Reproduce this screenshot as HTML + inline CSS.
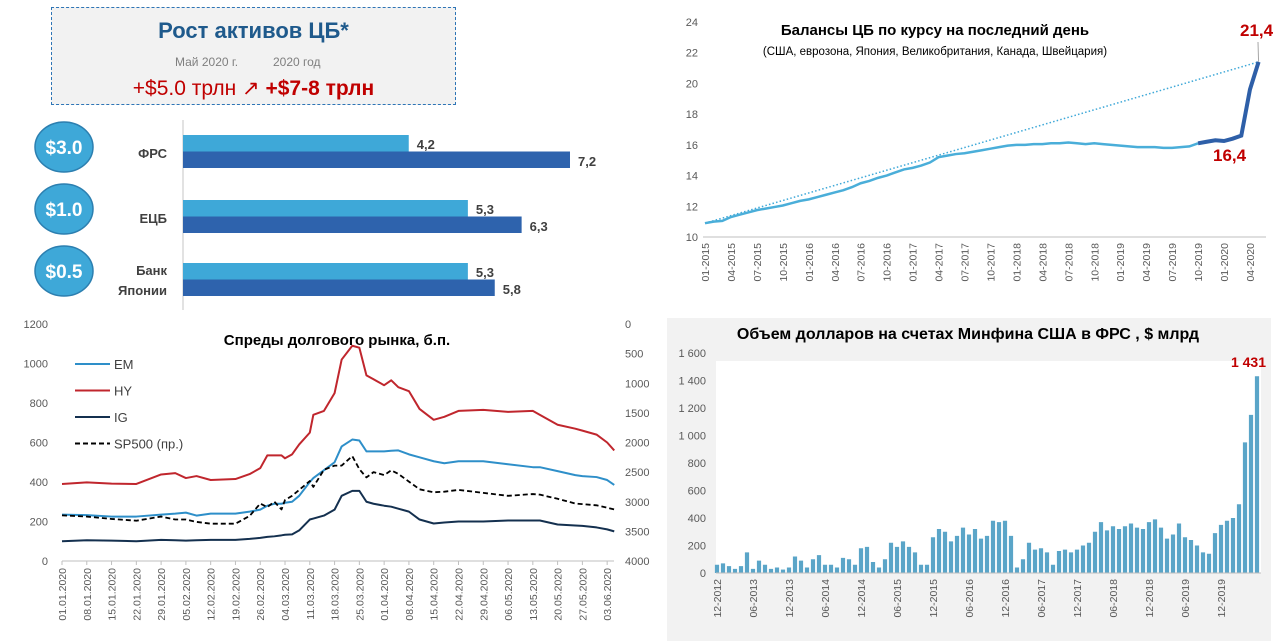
<!DOCTYPE html>
<html><head><meta charset="utf-8">
<style>
html,body{margin:0;padding:0;background:#fff;}
body{width:1280px;height:641px;position:relative;overflow:hidden;font-family:"Liberation Sans","DejaVu Sans",sans-serif;}
#box{position:absolute;left:51px;top:7px;width:403px;height:96px;background:#f2f2f2;border:1.5px dashed #2e75b6;}
#box .t{position:absolute;left:0;width:100%;top:10px;text-align:center;font-size:22px;font-weight:bold;color:#1f5a8c;}
#box .s1{position:absolute;left:123px;top:47px;font-size:12px;color:#7f7f7f;}
#box .s2{position:absolute;left:221px;top:47px;font-size:12px;color:#7f7f7f;}
#box .r{position:absolute;left:0;width:100%;top:68px;text-align:center;font-size:21px;color:#c00000;}
svg{position:absolute;left:0;top:0;}
</style></head><body>
<div id="box">
<div class="t">Рост активов ЦБ*</div>
<div class="s1">Май 2020 г.</div>
<div class="s2">2020 год</div>
<div class="r">+$5.0 трлн ↗ <b>+$7-8 трлн</b></div>
</div>
<svg id="s" width="1280" height="641" xmlns="http://www.w3.org/2000/svg" font-family="Liberation Sans, DejaVu Sans, sans-serif"></svg>
<script>
// ---- bar chart (CB assets) ----
const banks=['ФРС','ЕЦБ','Банк Японии'];
const mayVals=[4.2,5.3,5.3];
const yearVals=[7.2,6.3,5.8];
const growthLabels=['$3.0','$1.0','$0.5'];
// ---- balances chart ----
const balMonths=['01-2015','04-2015','07-2015','10-2015','01-2016','04-2016','07-2016','10-2016','01-2017','04-2017','07-2017','10-2017','01-2018','04-2018','07-2018','10-2018','01-2019','04-2019','07-2019','10-2019','01-2020','04-2020'];
const balTicks=[10,12,14,16,18,20,22,24];
const balVals=[10.9,11.0,11.05,11.3,11.45,11.6,11.75,11.85,11.95,12.05,12.2,12.35,
12.45,12.6,12.75,12.9,13.05,13.25,13.5,13.65,13.85,14.0,14.2,14.4,
14.5,14.65,14.85,15.2,15.3,15.4,15.45,15.55,15.65,15.75,15.85,15.95,
16.0,16.0,16.05,16.05,16.1,16.1,16.15,16.1,16.05,16.1,16.05,16.0,
15.95,15.9,15.85,15.85,15.85,15.8,15.8,15.85,15.9,16.1,16.2,16.3,
16.25,16.4,16.6,19.6,21.4];
// ---- spreads chart ----
const days=[0,7,14,21,28,32,35,38,42,49,53,56,58,60,62,63,65,67,70,71,74,77,79,82,84,86,88,91,93,95,98,101,105,108,112,119,126,133,135,140,145,147,151,154,156];
const hy=[390,398,392,390,438,445,420,430,410,415,440,470,535,535,535,520,540,590,650,740,760,850,1020,1090,1080,940,920,890,915,880,860,770,715,730,760,765,755,760,740,690,670,660,640,600,560];
const em=[235,232,225,225,235,240,245,230,240,240,250,260,280,290,290,295,300,330,400,420,460,500,580,615,610,555,555,555,558,560,540,525,505,495,505,505,490,475,475,455,435,430,425,410,385];
const ig=[100,105,103,100,107,105,103,105,107,107,112,117,122,125,130,133,135,155,210,215,230,260,330,355,355,300,290,280,275,265,250,210,190,195,200,200,205,205,205,185,180,178,170,160,150];
const sp=[3230,3250,3290,3320,3250,3300,3300,3340,3370,3370,3240,3030,3090,3000,3130,2970,2900,2800,2650,2750,2460,2390,2390,2230,2450,2590,2500,2550,2470,2530,2660,2790,2840,2830,2800,2850,2900,2870,2880,2950,3030,3040,3060,3100,3130];
const spDates=['01.01.2020','08.01.2020','15.01.2020','22.01.2020','29.01.2020','05.02.2020','12.02.2020','19.02.2020','26.02.2020','04.03.2020','11.03.2020','18.03.2020','25.03.2020','01.04.2020','08.04.2020','15.04.2020','22.04.2020','29.04.2020','06.05.2020','13.05.2020','20.05.2020','27.05.2020','03.06.2020'];
const spLeftTicks=[0,200,400,600,800,1000,1200];
const spRightTicks=[0,500,1000,1500,2000,2500,3000,3500,4000];
// ---- treasury account chart ----
const tgaTicks=[0,200,400,600,800,1000,1200,1400,1600];
const tgaLabels=['12-2012','06-2013','12-2013','06-2014','12-2014','06-2015','12-2015','06-2016','12-2016','06-2017','12-2017','06-2018','12-2018','06-2019','12-2019'];
const tgaVals=[60,70,50,30,50,150,30,90,60,30,40,25,40,120,90,40,100,130,60,60,40,110,100,60,180,190,80,40,100,220,190,230,190,150,60,60,260,320,300,230,270,330,280,320,250,270,380,370,380,270,40,100,220,170,180,150,60,160,170,150,170,200,220,300,370,310,340,320,340,360,330,320,370,390,330,250,280,360,260,240,200,150,140,290,350,380,400,500,950,1150,1431];

const S=document.getElementById('s');
const NS='http://www.w3.org/2000/svg';
function mk(tag,attrs,parent,text){const e=document.createElementNS(NS,tag);for(const k in attrs)e.setAttribute(k,attrs[k]);if(text!==undefined)e.textContent=text;(parent||S).appendChild(e);return e;}

// ===== Bar chart =====
const bx=v=>183+v*53.75;
const rowY=[135,200,263];
const circY=[147,209,271];
mk('line',{x1:183,y1:120,x2:183,y2:310,stroke:'#d9d9d9','stroke-width':1.5});
banks.forEach((b,i)=>{
  const y=rowY[i];
  let r=mk('rect',{x:183,y:y,width:bx(mayVals[i])-183,height:16.5,fill:'#3ea8d8'});
  
  r=mk('rect',{x:183,y:y+16.5,width:bx(yearVals[i])-183,height:16.5,fill:'#2e63ad'});
  
  let t=mk('text',{x:bx(mayVals[i])+8,y:y+14,'font-size':13,'font-weight':'bold',fill:'#404040'},S,String(mayVals[i]).replace('.',','));
  
  t=mk('text',{x:bx(yearVals[i])+8,y:y+31,'font-size':13,'font-weight':'bold',fill:'#404040'},S,String(yearVals[i]).replace('.',','));
  
  const e=mk('ellipse',{cx:64,cy:circY[i],rx:29,ry:25,fill:'#3ea8d8',stroke:'#2c7fb0','stroke-width':1.5});
  
  mk('text',{x:64,y:circY[i]+7,'font-size':19,'font-weight':'bold',fill:'#fff','text-anchor':'middle'},S,growthLabels[i]);
  if(i<2){t=mk('text',{x:167,y:y+23,'font-size':13,'font-weight':'bold',fill:'#404040','text-anchor':'end'},S,b);}
  else{t=mk('text',{x:167,y:y+12,'font-size':13,'font-weight':'bold',fill:'#404040','text-anchor':'end'},S,'Банк');
       mk('text',{x:167,y:y+32,'font-size':13,'font-weight':'bold',fill:'#404040','text-anchor':'end'},S,'Японии');}
  
});

// ===== Balances chart =====
const mx=i=>705+i*8.65;
const by=v=>237-(v-10)*15.36;
balTicks.forEach(v=>{const t=mk('text',{x:698,y:by(v)+4,'font-size':11,fill:'#595959','text-anchor':'end'},S,v);});
mk('line',{x1:703,y1:237,x2:1266,y2:237,stroke:'#bfbfbf'});
balMonths.forEach((m,i)=>{const x=mx(i*3)+4;const t=mk('text',{x:x,y:243,'font-size':10.5,fill:'#595959','text-anchor':'end',transform:`rotate(-90 ${x} 243)`},S,m);});
const last=balVals.length-1;
let tl=mk('line',{x1:mx(0),y1:by(balVals[0]),x2:mx(last),y2:by(balVals[last]),stroke:'#3ea8d8','stroke-width':1.5,'stroke-dasharray':'1.5 2.2'});

const split=57;
let p1=balVals.slice(0,split+1).map((v,i)=>`${mx(i)},${by(v)}`).join(' ');
let pl=mk('polyline',{points:p1,fill:'none',stroke:'#4aaed9','stroke-width':2.5});

let p2=balVals.slice(split).map((v,i)=>`${mx(i+split)},${by(v)}`).join(' ');
pl=mk('polyline',{points:p2,fill:'none',stroke:'#2e5fa8','stroke-width':4});

mk('line',{x1:mx(last),y1:by(balVals[last]),x2:1258,y2:42,stroke:'#a6a6a6'});
let t=mk('text',{x:1240,y:36,'font-size':17,'font-weight':'bold',fill:'#c00000'},S,'21,4');
t=mk('text',{x:1213,y:161,'font-size':17,'font-weight':'bold',fill:'#c00000'},S,'16,4');
t=mk('text',{x:935,y:35,'font-size':15,'font-weight':'bold',fill:'#000','text-anchor':'middle'},S,'Балансы ЦБ по курсу на последний день');
t=mk('text',{x:935,y:55,'font-size':11.5,fill:'#000','text-anchor':'middle'},S,'(США, еврозона, Япония, Великобритания, Канада, Швейцария)');

// ===== Spreads chart =====
const dx=d=>62+d*3.54;
const ly=v=>561-v*237/1200;
const ry=s=>324+s*237/4000;
spLeftTicks.forEach(v=>{const t=mk('text',{x:48,y:ly(v)+4,'font-size':11,fill:'#595959','text-anchor':'end'},S,v);});
spRightTicks.forEach(v=>{const t=mk('text',{x:625,y:ry(v)+4,'font-size':11,fill:'#595959'},S,v);});
mk('line',{x1:62,y1:561,x2:614,y2:561,stroke:'#bfbfbf'});
spDates.forEach((d,i)=>{const x=dx(i*7);mk('line',{x1:x,y1:561,x2:x,y2:565,stroke:'#bfbfbf'});const tx=x+4;const t=mk('text',{x:tx,y:568,'font-size':10.5,fill:'#595959','text-anchor':'end',transform:`rotate(-90 ${tx} 568)`},S,d);});
function series(arr,fy,color,w,dash,name){const pts=arr.map((v,i)=>`${dx(days[i])},${fy(v)}`).join(' ');const a={points:pts,fill:'none',stroke:color,'stroke-width':w,'stroke-linejoin':'round'};if(dash)a['stroke-dasharray']=dash;const p=mk('polyline',a);}
series(hy,ly,'#c0262d',2,null,'hy-line');
series(em,ly,'#2e8fc9',2,null,'em-line');
series(ig,ly,'#14304f',2,null,'ig-line');
series(sp,ry,'#000',1.8,'5 3','sp500-line');
const leg=[['EM','#2e8fc9',null],['HY','#c0262d',null],['IG','#14304f',null],['SP500 (пр.)','#000','5 3']];
leg.forEach((l,i)=>{const y=364+i*26.5;const a={x1:75,y1:y,x2:110,y2:y,stroke:l[1],'stroke-width':2};if(l[2])a['stroke-dasharray']=l[2];mk('line',a);const t=mk('text',{x:114,y:y+5,'font-size':13,fill:'#404040'},S,l[0]);});
t=mk('text',{x:337,y:345,'font-size':15,'font-weight':'bold',fill:'#000','text-anchor':'middle'},S,'Спреды долгового рынка, б.п.');

// ===== Treasury account chart =====
mk('rect',{x:667,y:318,width:604,height:323,fill:'#f2f2f2'});
mk('rect',{x:716,y:361,width:545,height:212,fill:'#fff'});
const tx_=i=>717+i*6.0;
const ty=v=>573-v*220/1600;
tgaTicks.forEach(v=>{const t=mk('text',{x:706,y:ty(v)+4,'font-size':11,fill:'#595959','text-anchor':'end'},S,v>=1000?String(v).replace(/(\d)(\d{3})$/,'$1 $2'):v);});
tgaVals.forEach((v,i)=>{const r=mk('rect',{x:tx_(i)-2.1,y:ty(v),width:4.2,height:573-ty(v),fill:'#5aa5c8'});});
mk('line',{x1:716,y1:573,x2:1261,y2:573,stroke:'#bfbfbf'});
tgaLabels.forEach((l,i)=>{const x=tx_(i*6)+4;const t=mk('text',{x:x,y:579,'font-size':10.5,fill:'#595959','text-anchor':'end',transform:`rotate(-90 ${x} 579)`},S,l);});
t=mk('text',{x:968,y:339,'font-size':16,'font-weight':'bold',fill:'#000','text-anchor':'middle'},S,'Объем долларов на счетах Минфина США в ФРС , $ млрд');
t=mk('text',{x:1266,y:367,'font-size':14,'font-weight':'bold',fill:'#c00000','text-anchor':'end'},S,'1 431');
</script>
</body></html>
